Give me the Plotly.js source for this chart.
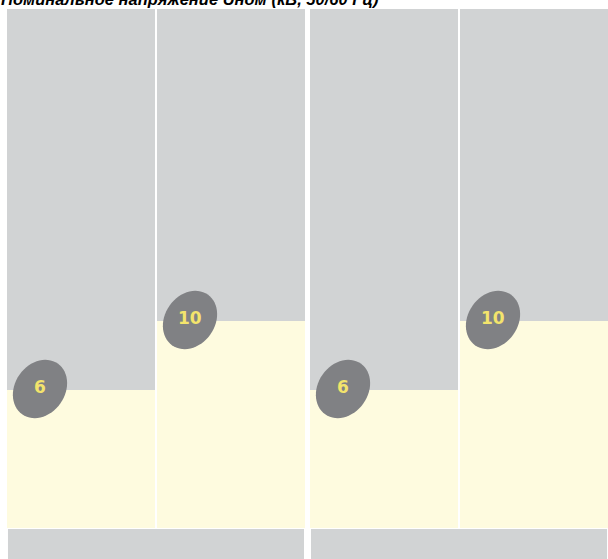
<!DOCTYPE html>
<html>
<head>
<meta charset="utf-8">
<script src="https://cdn.plot.ly/plotly-3.0.1.min.js"></script>
<style>html,body{margin:0;padding:0;background:#fff;}</style>
</head>
<body>
<div id="chart" style="width:608px;height:559px;"></div>
<script>
// ---- data ----
const groups = ['Исполнение 1', 'Исполнение 2'];
const seriesNames = ['6 кВ', '10 кВ'];
const series6 = [6, 6];
const series10 = [10, 10];
const titleText = 'Номинальное напряжение Uном (кВ, 50/60 Гц)';

// ---- scale / style constants ----
const yBase = -2;
const yTop = 28.09;
const yBottom = -3.8;
const bargap = 0.0099;
const bargroupgap = 0.0133;
const delta = 0.0083;
const GRAY = '#d1d3d4';
const YELLOW = '#fefbdf';
const OVAL = '#808184';
const LABEL = '#f3e46c';

const seriesList = [series6, series10];
const offsets = ['a', 'b'];

const traces = [];
// background tracks
seriesList.forEach((s, k) => {
  traces.push({
    type: 'bar', x: groups, y: groups.map(() => yTop - yBase + 1), base: yBase,
    offsetgroup: offsets[k], marker: {color: GRAY}, hoverinfo: 'skip', name: seriesNames[k]
  });
});
// value fills
seriesList.forEach((s, k) => {
  traces.push({
    type: 'bar', x: groups, y: s.map(v => v - yBase), base: yBase,
    offsetgroup: offsets[k], marker: {color: YELLOW}, hoverinfo: 'skip', name: seriesNames[k]
  });
});
// bottom band per group
traces.push({
  type: 'bar', x: groups, y: groups.map(() => (yBase - 0.06) - yBottom), base: yBottom,
  xaxis: 'x2', marker: {color: GRAY}, hoverinfo: 'skip', name: 'band'
});

// ellipse path in pixel offsets (y up-positive)
function ellipsePath(cx, cy, a, b, deg) {
  const th = deg * Math.PI / 180;
  let p = '';
  const n = 60;
  for (let i = 0; i < n; i++) {
    const t = 2 * Math.PI * i / n;
    const x = cx + a * Math.cos(t) * Math.cos(th) - b * Math.sin(t) * Math.sin(th);
    const y = cy + a * Math.cos(t) * Math.sin(th) + b * Math.sin(t) * Math.cos(th);
    p += (i === 0 ? 'M' : 'L') + x.toFixed(2) + ',' + y.toFixed(2) + ' ';
  }
  return p + 'Z';
}

const shapes = [];
const annotations = [];
const slotOffset = (1 - bargap) / 4;
seriesList.forEach((s, k) => {
  s.forEach((v, i) => {
    const xpos = i + (k === 0 ? -1 : 1) * slotOffset;
    shapes.push({
      type: 'path', xref: 'x', yref: 'y', xsizemode: 'pixel', ysizemode: 'pixel',
      xanchor: xpos, yanchor: v, path: ellipsePath(-41, 1, 31, 25, 55),
      fillcolor: OVAL, line: {width: 0}, layer: 'above'
    });
    annotations.push({
      xref: 'x', yref: 'y', x: xpos, y: v, text: String(v), showarrow: false,
      xshift: -41, yshift: 3,
      font: {family: 'DejaVu Sans', size: 17, color: LABEL, weight: 'bold'}
    });
  });
});
annotations.push({
  xref: 'paper', yref: 'paper', x: 0, y: 1, xanchor: 'left', yanchor: 'bottom',
  xshift: -8, yshift: -1, text: titleText, showarrow: false,
  font: {family: 'Liberation Sans', size: 16.5, color: '#000', weight: 'bold', style: 'italic'}
});

const layout = {
  width: 608, height: 559,
  margin: {l: 7, r: 0, t: 9, b: 0},
  paper_bgcolor: '#ffffff', plot_bgcolor: '#ffffff',
  showlegend: false,
  barmode: 'group', bargap: bargap, bargroupgap: bargroupgap,
  xaxis: {type: 'category', range: [-0.5 + delta, 1.5 - delta], visible: false, fixedrange: true},
  xaxis2: {type: 'category', overlaying: 'x', range: [-0.5 + delta, 1.5 - delta], visible: false, fixedrange: true},
  yaxis: {range: [yBottom, yTop], visible: false, fixedrange: true},
  shapes: shapes,
  annotations: annotations
};

Plotly.newPlot('chart', traces, layout, {displayModeBar: false, staticPlot: true});
</script>
</body>
</html>
